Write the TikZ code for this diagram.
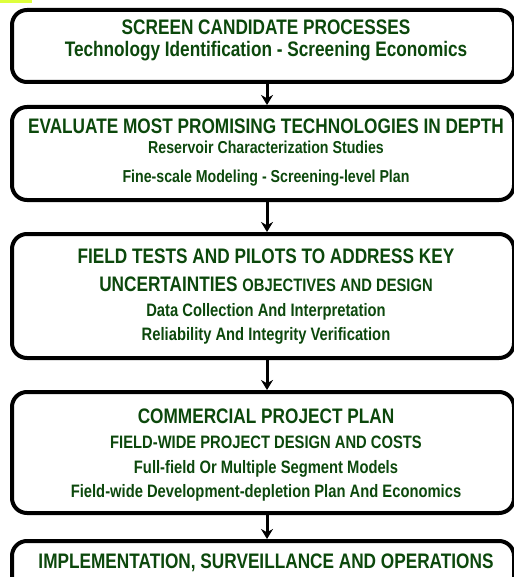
\documentclass[tikz,border=0pt]{standalone}
\usepackage{fontspec}
\newfontfamily\nf[FakeStretch=0.82]{Liberation Sans}
\usetikzlibrary{arrows.meta}
\definecolor{txtgreen}{RGB}{12,72,12}
\definecolor{hilite}{RGB}{222,255,60}
\tikzset{
  x=1bp, y=-1bp,
  stagebox/.style={draw=black, line width=4bp, rounded corners=15bp},
  big/.style={font=\nf\bfseries\fontsize{21bp}{24bp}\selectfont, text=txtgreen, anchor=base, inner sep=0pt},
  small/.style={font=\nf\bfseries\fontsize{18bp}{21bp}\selectfont, text=txtgreen, anchor=base, inner sep=0pt},
  smaller/.style={font=\nf\bfseries\fontsize{17.3bp}{20bp}\selectfont, text=txtgreen, anchor=base, inner sep=0pt},
  flow/.style={draw=black, line width=3bp, -{Stealth[length=10bp,width=12bp]}}
}
\begin{document}
\begin{tikzpicture}
\useasboundingbox (0,0) rectangle (514,577);
\fill[hilite] (0,0) rectangle (32,3);
% boxes
\node[stagebox, minimum width=502bp, minimum height=72bp, anchor=north west] (b1) at (10,8) {};
\node[stagebox, minimum width=502bp, minimum height=93bp, anchor=north west] (b2) at (10,105) {};
\node[stagebox, minimum width=502bp, minimum height=124bp, anchor=north west] (b3) at (10,232) {};
\node[stagebox, minimum width=502bp, minimum height=121bp, anchor=north west] (b4) at (10,390) {};
\node[stagebox, minimum width=502bp, minimum height=90bp, anchor=north west] (b5) at (10,539) {};
% texts
\node[big] (t11) at (266,35) {SCREEN CANDIDATE PROCESSES};
\node[big] (t12) at (266,57) {Technology Identification - Screening Economics};
\node[big] (t21) at (266,134) {EVALUATE MOST PROMISING TECHNOLOGIES IN DEPTH};
\node[smaller] (t22) at (266,154) {Reservoir Characterization Studies};
\node[smaller] (t23) at (266,182) {Fine-scale Modeling - Screening-level Plan};
\node[big] (t31) at (266,263) {FIELD TESTS AND PILOTS TO ADDRESS KEY};
\node[big] (t32) at (266,291) {UNCERTAINTIES {\fontsize{18bp}{21bp}\selectfont OBJECTIVES AND DESIGN}};
\node[small] (t33) at (266,316) {Data Collection And Interpretation};
\node[small] (t34) at (266,340) {Reliability And Integrity Verification};
\node[big] (t41) at (266,423) {COMMERCIAL PROJECT PLAN};
\node[small] (t42) at (266,448) {FIELD-WIDE PROJECT DESIGN AND COSTS};
\node[small] (t43) at (266,473) {Full-field Or Multiple Segment Models};
\node[small] (t44) at (266,497) {Field-wide Development-depletion Plan And Economics};
\node[big] (t51) at (266,568) {IMPLEMENTATION, SURVEILLANCE AND OPERATIONS};
% connectors
\draw[flow] (b1.south -| 267,0) -- (b2.north -| 267,0);
\draw[flow] (b2.south -| 267,0) -- (b3.north -| 267,0);
\draw[flow] (b3.south -| 267,0) -- (b4.north -| 267,0);
\draw[flow] (b4.south -| 267,0) -- (b5.north -| 267,0);
\end{tikzpicture}
\end{document}
